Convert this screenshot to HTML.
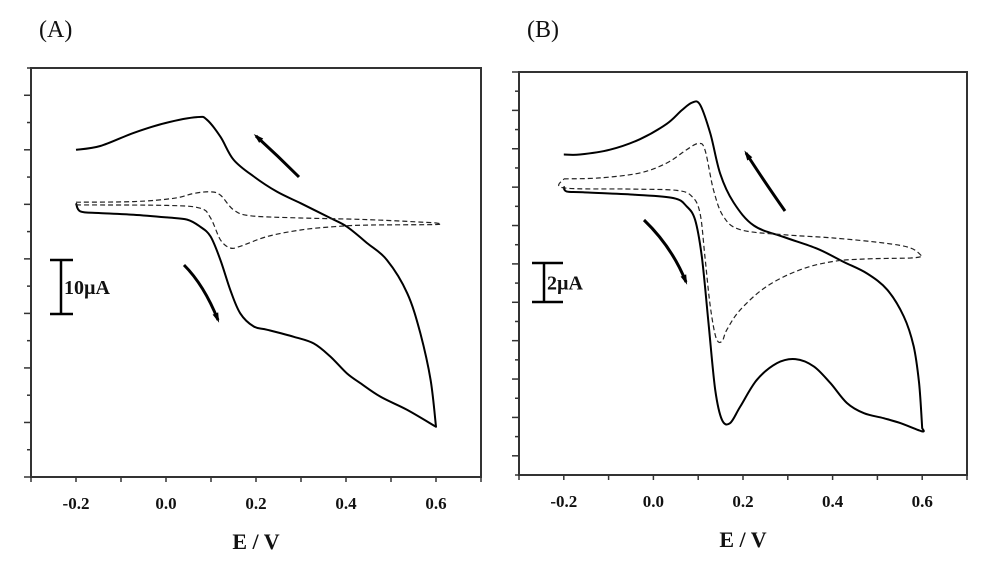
<!DOCTYPE html>
<html><head><meta charset="utf-8">
<style>
html,body{margin:0;padding:0;background:#fff;}
svg{display:block;}
text{font-family:"Liberation Serif",serif;fill:#111;}
</style></head>
<body>
<svg id="chart" width="990" height="577" viewBox="0 0 990 577">
<text x="39" y="37" font-size="24">(A)</text>
<text x="527" y="37" font-size="24">(B)</text>
</svg>
<script>
// Panel A data (E in V, I in µA)
const aSolidE = [-0.2,-0.146,-0.072,-0.002,0.069,0.091,0.121,0.150,0.195,0.247,0.299,0.365,0.402,0.447,0.491,0.536,0.565,0.588,0.6,0.536,0.477,0.432,0.402,0.365,0.328,0.284,0.225,0.195,0.165,0.143,0.121,0.099,0.076,0.047,0.002,-0.072,-0.146,-0.19,-0.2];
const aSolidI = [60.0,60.7,63.1,64.9,66.0,65.5,62.4,58.2,55.1,52.3,50.2,47.5,45.9,42.9,39.8,33.7,26.4,17.8,9.2,12.3,14.7,17.2,19.0,22.1,24.5,25.7,27.0,27.6,30.0,34.3,39.8,44.1,45.9,47.2,47.6,48.1,48.4,48.7,50.2];
const aDashE = [-0.2,-0.072,0.017,0.062,0.099,0.121,0.150,0.188,0.299,0.447,0.6,0.6,0.447,0.373,0.299,0.225,0.165,0.143,0.121,0.099,0.076,0.002,-0.2];
const aDashI = [50.4,50.5,51.1,52.0,52.3,51.7,49.0,47.9,47.5,47.2,46.6,46.3,46.2,45.9,45.3,44.1,42.3,42.0,43.5,47.5,49.3,49.8,49.9];
// Panel B data
const bSolidE = [-0.2,-0.164,-0.097,-0.030,0.030,0.063,0.086,0.104,0.127,0.149,0.179,0.224,0.291,0.365,0.425,0.477,0.522,0.559,0.581,0.593,0.6,0.6,0.552,0.514,0.470,0.432,0.395,0.358,0.317,0.276,0.231,0.194,0.171,0.153,0.138,0.123,0.108,0.093,0.074,0.045,-0.045,-0.157,-0.194,-0.2];
const bSolidI = [15.7,15.7,15.95,16.5,17.3,18.0,18.4,18.3,16.8,14.7,13.2,12.0,11.4,10.8,10.1,9.5,8.65,7.26,5.70,3.79,1.44,1.27,1.70,1.96,2.22,2.75,3.79,4.66,5.04,4.83,3.96,2.57,1.70,1.88,3.44,6.92,10.39,12.30,13.00,13.43,13.61,13.73,13.78,14.04];
const bDashE = [-0.2,-0.119,-0.030,0.030,0.074,0.100,0.115,0.134,0.156,0.194,0.291,0.402,0.514,0.574,0.6,0.574,0.477,0.402,0.328,0.253,0.194,0.164,0.153,0.140,0.127,0.115,0.104,0.086,0.052,-0.045,-0.2,-0.2];
const bDashI = [14.43,14.48,14.74,15.26,15.95,16.27,15.95,13.87,12.48,11.78,11.52,11.35,11.09,10.83,10.39,10.31,10.26,10.13,9.70,8.83,7.61,6.57,5.96,6.14,7.78,10.39,12.65,13.52,13.83,13.90,13.96,14.43];
const xTickLabels = ["-0.2","0.0","0.2","0.4","0.6"];
const xTickValues = [-0.2,0.0,0.2,0.4,0.6];

const NS = "http://www.w3.org/2000/svg";
const svg = document.getElementById('chart');
function mk(tag, attrs, parent){const e=document.createElementNS(NS,tag);for(const k in attrs)e.setAttribute(k,attrs[k]);(parent||svg).appendChild(e);return e;}

function smoothSeg(pts, move){
  let d=(move?"M":"L")+pts[0][0].toFixed(1)+","+pts[0][1].toFixed(1);
  for(let i=0;i<pts.length-1;i++){
    const p0=pts[Math.max(0,i-1)],p1=pts[i],p2=pts[i+1],p3=pts[Math.min(pts.length-1,i+2)];
    const c1=[p1[0]+(p2[0]-p0[0])/6,p1[1]+(p2[1]-p0[1])/6];
    const c2=[p2[0]-(p3[0]-p1[0])/6,p2[1]-(p3[1]-p1[1])/6];
    d+="C"+c1[0].toFixed(1)+","+c1[1].toFixed(1)+" "+c2[0].toFixed(1)+","+c2[1].toFixed(1)+" "+p2[0].toFixed(1)+","+p2[1].toFixed(1);
  }
  return d;
}
function cvPath(E,I,X,Y){
  // split at the anodic vertex (first max E) so the turn stays sharp
  let k=0;for(let i=0;i<E.length;i++){if(E[i]>E[k])k=i;}
  const pts=E.map((e,i)=>[X(e),Y(I[i])]);
  return smoothSeg(pts.slice(0,k+1),true)+smoothSeg(pts.slice(k),false);
}

function panel(cfg){
  const g=mk('g',{});
  
  
  const X=e=>cfg.L+(e+0.3)/1.0*(cfg.R-cfg.L);
  const Y=i=>cfg.B-(i-cfg.ymin)/(cfg.ymax-cfg.ymin)*(cfg.B-cfg.T);
  const fr=mk('rect',{x:cfg.L,y:cfg.T,width:cfg.R-cfg.L,height:cfg.B-cfg.T,fill:'none',stroke:'#333','stroke-width':2},g);
  
  
  for(let k=-3;k<=7;k++){
    const x=X(k/10);
    const t=mk('line',{x1:x,y1:cfg.B,x2:x,y2:cfg.B+5,stroke:'#333','stroke-width':1.5},g);
    
    
  }
  xTickValues.forEach((v,i)=>{
    const t=mk('text',{x:X(v),y:cfg.B+32,'font-size':17,'font-weight':'bold','text-anchor':'middle'},g);
    t.textContent=xTickLabels[i];
    
    
  });
  const xt=mk('text',{x:(cfg.L+cfg.R)/2,y:cfg.B+72,'font-size':22,'font-weight':'bold','text-anchor':'middle'},g);
  xt.textContent="E / V";
  
  
  for(let v=cfg.ymin;v<=cfg.ymax+1e-6;v+=cfg.minor){
    const y=Y(v);
    const major=Math.abs(Math.round(v/cfg.major)*cfg.major-v)<1e-6;
    const t=mk('line',{x1:cfg.L-(major?7:4),y1:y,x2:cfg.L,y2:y,stroke:'#333','stroke-width':1.5},g);
    
    
  }
  const ps=mk('path',{d:cvPath(cfg.sE,cfg.sI,X,Y),fill:'none',stroke:'#000','stroke-width':2,'stroke-linejoin':'round'},g);
  
  
  const pd=mk('path',{d:cvPath(cfg.dE,cfg.dI,X,Y),fill:'none',stroke:'#222','stroke-width':1.2,'stroke-dasharray':'5,3'},g);
  
  
  cfg.arrows.forEach(a=>{
    const p=mk('path',{d:`M${a[0]},${a[1]} Q${a[4]},${a[5]} ${a[2]},${a[3]}`,fill:'none',stroke:'#000','stroke-width':3},g);
    
    
    const dx=a[2]-a[4],dy=a[3]-a[5],L=Math.hypot(dx,dy),ux=dx/L,uy=dy/L;
    const h=mk('polygon',{points:`${a[2]+ux*3},${a[3]+uy*3} ${a[2]-ux*7-uy*3},${a[3]-uy*7+ux*3} ${a[2]-ux*7+uy*3},${a[3]-uy*7-ux*3}`,fill:'#000'},g);
    
    
  });
  const sb=cfg.bar;
  const sg=mk('g',{stroke:'#000','stroke-width':2.5},g);
  
  
  mk('line',{x1:sb.x,y1:sb.y1,x2:sb.x,y2:sb.y2},sg);
  mk('line',{x1:sb.x-sb.w1,y1:sb.y1,x2:sb.x+sb.w2,y2:sb.y1},sg);
  mk('line',{x1:sb.x-sb.w1,y1:sb.y2,x2:sb.x+sb.w2,y2:sb.y2},sg);
  const st=mk('text',{x:sb.x+3,y:(sb.y1+sb.y2)/2+7,'font-size':20,'font-weight':'bold'},g);
  st.textContent=sb.label;
  
  
}

panel({name:'panel-a',L:31,R:481,T:68,B:477,ymin:0,ymax:75,major:10,minor:5,
  sE:aSolidE,sI:aSolidI,dE:aDashE,dI:aDashI,
  arrows:[[299,177,256,136,278,156],[184,265,218,320,204,285]],
  bar:{x:61,y1:260,y2:314,w1:11,w2:12,label:'10µA'}});
panel({name:'panel-b',L:519,R:967,T:72,B:475,ymin:-1,ymax:20,major:2,minor:1,
  sE:bSolidE,sI:bSolidI,dE:bDashE,dI:bDashI,
  arrows:[[785,211,746,153,762,178],[644,220,686,282,672,247]],
  bar:{x:544,y1:263,y2:302,w1:12,w2:19,label:'2µA'}});
</script>
</body></html>
